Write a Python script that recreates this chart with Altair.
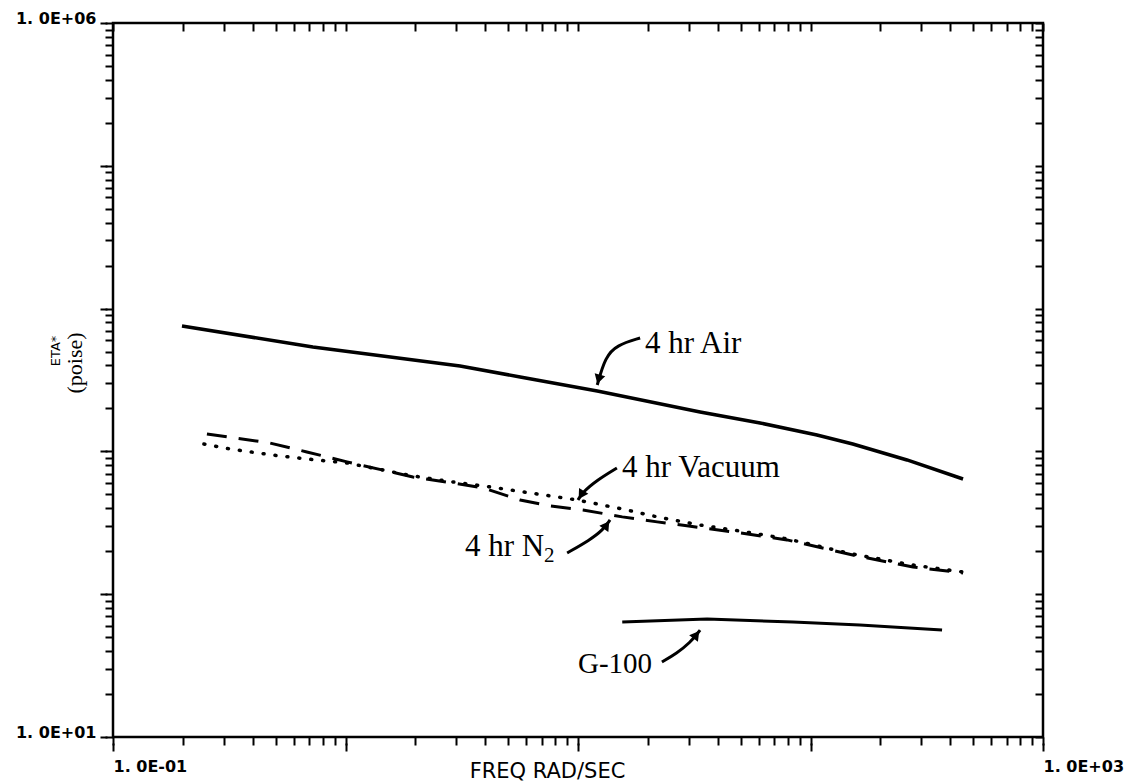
import altair as alt
import pandas as pd

# ---- curves (frequency in rad/s, complex viscosity in poise) ----
air_freq = [0.198, 0.724, 3.11, 5.64, 12.1, 33.5, 60.7, 106.6, 152, 260, 453]
air_eta = [7550, 5385, 3963, 3319, 2649, 1888, 1581, 1303, 1127, 871, 641]

n2_freq = [0.2535, 0.473, 0.682, 1.015, 1.95, 2.90, 3.90, 5.64, 7.59, 10.5, 15.5,
           21.9, 29.4, 49.8, 79.3, 152, 276, 453]
n2_eta = [1324, 1145, 991, 844, 662, 601, 555, 457, 415, 389, 348,
          321, 301, 269, 240, 188, 155, 141]

vac_freq = [0.246, 0.319, 0.483, 0.682, 1.015, 1.95, 2.90, 4.19, 6.22, 9.91, 15.5,
            21.9, 33.5, 49.8, 79.3, 152, 276, 453]
vac_eta = [1127, 1040, 944, 885, 830, 673, 611, 564, 512, 457, 395,
           348, 305, 277, 244, 191, 160, 143]

g100_freq = [15.5, 35.9, 84.1, 163, 368]
g100_eta = [63.9, 67.0, 63.9, 60.8, 56.1]

# ---- annotations ----
label_text = ["4 hr Air", "4 hr Vacuum", "4 hr N", "2", "G-100"]
label_freq = [19.4, 15.45, 3.266, 7.14, 10.0]
label_eta = [4887, 662, 185, 168, 28.1]
label_size = [31, 31, 31, 21, 29]

arrow_names = ["air", "vac", "n2", "g100"]
arrow_freq = [[18.5, 14.7, 13.1, 12.1], [14.7, 12.1, 10.5, 10.0],
              [8.98, 11.26, 12.81, 13.73], [22.96, 26.6, 30.3, 33.5]]
arrow_eta = [[6223, 5558, 4581, 2918], [766, 631, 520, 457],
             [194.5, 240, 282, 331], [33.5, 38.7, 45.5, 56.1]]
head_freq = [12.27, 10.32, 13.27, 32.3]
head_eta = [3203, 496, 305, 52.0]
head_angle = [196, 212, 35, 37]

# ---- axis ticks ----
x_major = [0.1, 1, 10, 100, 1000]
x_ticks = [m * d for d in [0.1, 1, 10, 100] for m in range(1, 10)] + [1000]
y_major = [10, 100, 1000, 10000, 100000, 1000000]
y_ticks = [m * d for d in [10, 100, 1000, 10000, 100000] for m in range(1, 10)] + [1000000]


def frame(name, xs, ys):
    return pd.DataFrame({"series": name, "freq": xs, "eta": ys, "order": list(range(len(xs)))})


air_df = frame("air", air_freq, air_eta)
n2_df = frame("n2", n2_freq, n2_eta)
vac_df = frame("vac", vac_freq, vac_eta)
g_df = frame("g100", g100_freq, g100_eta)
labels_df = pd.DataFrame({"label": label_text, "freq": label_freq, "eta": label_eta, "size": label_size})
arrows_df = pd.concat([frame(n, f, e) for n, f, e in zip(arrow_names, arrow_freq, arrow_eta)])
heads_df = pd.DataFrame({"freq": head_freq, "eta": head_eta, "angle": head_angle})

xscale = alt.Scale(type="log", domain=[0.1, 1000], nice=False)
yscale = alt.Scale(type="log", domain=[10, 1000000], nice=False)

common = dict(tickColor="black", tickWidth=2, domain=False, grid=False)


def X(axis=None):
    return alt.X("freq:Q", scale=xscale, axis=axis)


def Y(axis=None):
    return alt.Y("eta:Q", scale=yscale, axis=axis)


# axes: minor/outer ticks on bottom & left
ax_minor = alt.Chart(air_df).mark_point(opacity=0).encode(
    x=X(alt.Axis(orient="bottom", values=x_ticks, tickSize=8, labels=False, title=None, **common)),
    y=Y(alt.Axis(orient="left", values=y_ticks, tickSize=8, labels=False, title=None, **common)),
)

# axes: major ticks (offset to lengthen) with labels
ax_major = alt.Chart(air_df).mark_point(opacity=0).encode(
    x=X(alt.Axis(
        orient="bottom", values=x_major, offset=6, tickSize=8,
        labelExpr="datum.value == 0.1 ? '1. 0E-01' : (datum.value == 1000 ? '1. 0E+03' : '')",
        labelAlign="left", labelBaseline="top", labelPadding=7, labelFlush=False, labelOverlap=False,
        labelFont="DejaVu Sans", labelFontWeight="bold", labelFontSize=16, labelColor="black",
        title="FREQ RAD/SEC", titleFont="DejaVu Sans", titleFontSize=21, titleFontWeight="normal",
        titleColor="black", titleX=434, titleY=28, titleBaseline="middle", titleAlign="center",
        **common)),
    y=Y(alt.Axis(
        orient="left", values=y_major, offset=6, tickSize=7,
        labelExpr="datum.value == 10 ? '1. 0E+01' : (datum.value == 1000000 ? '1. 0E+06' : '')",
        labelAlign="right", labelBaseline="alphabetic", labelPadding=4, labelFlush=False,
        labelOverlap=False, labelFont="DejaVu Sans", labelFontWeight="bold", labelFontSize=16,
        labelColor="black", title=None, **common)),
)

# axes: inward ticks on top & right
ax_inner = alt.Chart(air_df).mark_point(opacity=0).encode(
    x=X(alt.Axis(orient="top", values=x_ticks, offset=-8, tickSize=8, labels=False, title=None, **common)),
    y=Y(alt.Axis(orient="right", values=y_ticks, offset=-8, tickSize=8, labels=False, title=None, **common)),
)

air = alt.Chart(air_df).mark_line(color="black", strokeWidth=3.5).encode(x=X(), y=Y(), order="order:Q")
g100 = alt.Chart(g_df).mark_line(color="black", strokeWidth=3).encode(x=X(), y=Y(), order="order:Q")
n2 = alt.Chart(n2_df).mark_line(color="black", strokeWidth=3, strokeDash=[20, 12]).encode(
    x=X(), y=Y(), order="order:Q")
vac = alt.Chart(vac_df).mark_line(color="black", strokeWidth=3.5, strokeDash=[1, 11], strokeCap="round").encode(
    x=X(), y=Y(), order="order:Q")

texts = alt.Chart(labels_df).mark_text(
    font="Liberation Serif", align="left", baseline="alphabetic", color="black"
).encode(x=X(), y=Y(), text="label:N", size=alt.Size("size:Q", scale=None, legend=None))

shafts = alt.Chart(arrows_df).mark_line(color="black", strokeWidth=3, interpolate="basis").encode(
    x=X(), y=Y(), detail="series:N", order="order:Q")

heads = alt.Chart(heads_df).mark_point(shape="triangle-up", filled=True, size=120, color="black", opacity=1).encode(
    x=X(), y=Y(), angle=alt.Angle("angle:Q", scale=None))

ytitle_a = alt.Chart(pd.DataFrame({"t": ["ETA*"]})).mark_text(
    font="DejaVu Sans", fontSize=13, angle=270, color="black", baseline="middle", align="center"
).encode(x=alt.value(-57), y=alt.value(328), text="t:N")

ytitle_b = alt.Chart(pd.DataFrame({"t": ["(poise)"]})).mark_text(
    font="Liberation Serif", fontSize=22, angle=270, color="black", baseline="middle", align="center"
).encode(x=alt.value(-38), y=alt.value(340), text="t:N")

chart = alt.layer(
    ax_minor, ax_major, ax_inner, air, g100, n2, vac, shafts, heads, texts, ytitle_a, ytitle_b
).resolve_axis(x="independent", y="independent").properties(
    width=930, height=714,
    padding={"left": 113, "top": 23, "right": 92, "bottom": 47},
    autosize=alt.AutoSizeParams(type="none"),
    background="white",
).configure_view(stroke="black", strokeWidth=2.5)

chart.save("out.html", embed_options={"renderer": "svg", "actions": False})
